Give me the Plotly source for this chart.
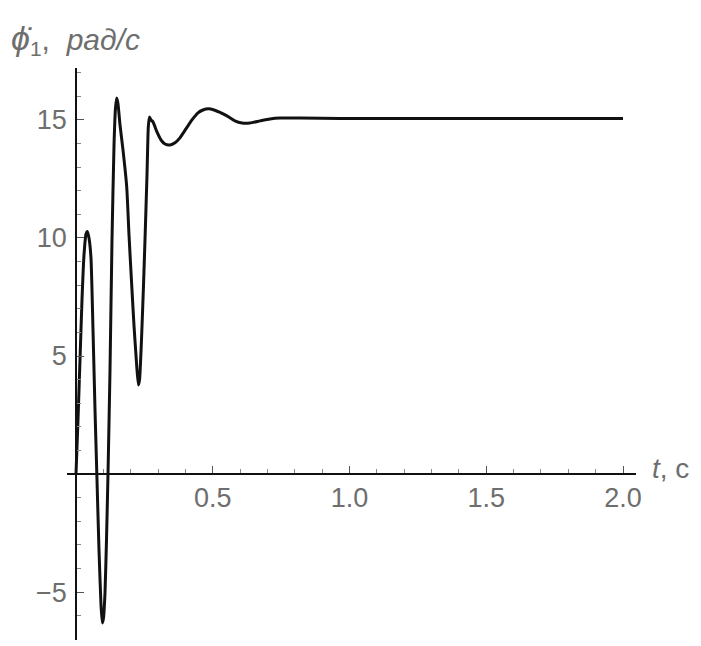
import plotly.graph_objects as go

# time, s
t_vals = [0.0, 0.0073, 0.0146, 0.0219, 0.0293, 0.0366, 0.0413, 0.0475, 0.0548, 0.0622,
          0.0695, 0.0768, 0.0841, 0.0914, 0.0962, 0.1005, 0.106, 0.1115, 0.117, 0.1243,
          0.1316, 0.139, 0.1444, 0.1488, 0.1536, 0.1609, 0.1718, 0.1854, 0.1938, 0.2037,
          0.212, 0.2205, 0.2278, 0.2322, 0.2402, 0.2468, 0.2523, 0.2596, 0.2643, 0.2687,
          0.2742, 0.2815, 0.296, 0.3108, 0.3254, 0.3437, 0.362, 0.380, 0.402, 0.424,
          0.446, 0.464, 0.484, 0.505, 0.5265, 0.552, 0.581, 0.607, 0.636, 0.673,
          0.709, 0.746, 0.819, 0.965, 1.2, 1.5, 1.8, 2.0]
# angular velocity, rad/s
w_vals = [0.0, 2.29, 4.83, 7.37, 9.28, 10.17, 10.27, 10.0, 9.15, 6.1,
          2.71, -0.25, -3.22, -5.55, -6.31, -6.1, -5.04, -2.8, 0.0, 4.4,
          9.9, 13.94, 15.5, 15.93, 15.68, 14.79, 13.73, 12.17, 10.13, 8.0,
          6.3, 4.83, 3.77, 3.98, 5.9, 8.0, 9.92, 12.67, 14.7, 15.13,
          15.0, 14.92, 14.49, 14.15, 13.98, 13.94, 14.03, 14.24, 14.62, 15.0,
          15.3, 15.42, 15.47, 15.42, 15.32, 15.17, 14.96, 14.87, 14.87, 14.96,
          15.04, 15.08, 15.08, 15.06, 15.06, 15.06, 15.06, 15.06]

x_tick_vals = [0.5, 1.0, 1.5, 2.0]
x_tick_text = ["0.5", "1.0", "1.5", "2.0"]
y_tick_vals = [-5, 5, 10, 15]
y_tick_text = ["\u22125", "5", "10", "15"]
x_minor = [0.1, 0.2, 0.3, 0.4, 0.6, 0.7, 0.8, 0.9, 1.1, 1.2, 1.3, 1.4, 1.6, 1.7, 1.8, 1.9]
y_minor = [-7, -6, -4, -3, -2, -1, 1, 2, 3, 4, 6, 7, 8, 9, 11, 12, 13, 14, 16, 17]

x_range = [-0.0329, 2.0475]
y_range = [-7.03, 17.2]

# page body adds an 8px offset, so the figure is sized to fit the window
W, H = 693, 638
L, R, T, B = 59, 65, 60, 6

fig = go.Figure()
fig.add_trace(go.Scatter(
    x=t_vals, y=w_vals, mode="lines",
    line=dict(color="#111111", width=3, shape="spline", smoothing=0.5),
    hoverinfo="skip", showlegend=False,
))

font_family = "Liberation Sans, Arial, sans-serif"
label_color = "#6e6e6e"

y_title = ("<span style='font-size:34px'><i>\u03d5\u0307</i></span>"
           "<sub>1</sub>,  <i>\u0440\u0430\u0434/\u0441</i>")

fig.update_layout(
    width=W, height=H,
    margin=dict(l=L, r=R, t=T, b=B, pad=0),
    paper_bgcolor="white", plot_bgcolor="white",
    font=dict(family=font_family, size=26, color=label_color),
    xaxis=dict(
        range=x_range, showgrid=False, zeroline=False,
        showline=True, linecolor="#111111", linewidth=1.5,
        anchor="free", position=(0 - y_range[0]) / (y_range[1] - y_range[0]),
        tickmode="array", tickvals=x_tick_vals, ticktext=x_tick_text,
        ticks="inside", ticklen=7, tickwidth=1, tickcolor="#555555",
        ticklabelstandoff=0,
        tickfont=dict(size=27, color=label_color, family=font_family),
        minor=dict(tickmode="array", tickvals=x_minor, ticks="inside",
                   ticklen=4, tickwidth=1, tickcolor="#888888", showgrid=False),
    ),
    yaxis=dict(
        range=y_range, showgrid=False, zeroline=False,
        showline=True, linecolor="#111111", linewidth=1.5,
        anchor="free", position=(0 - x_range[0]) / (x_range[1] - x_range[0]),
        tickmode="array", tickvals=y_tick_vals, ticktext=y_tick_text,
        ticks="inside", ticklen=7, tickwidth=1, tickcolor="#555555",
        ticklabelstandoff=3,
        tickfont=dict(size=27, color=label_color, family=font_family),
        minor=dict(tickmode="array", tickvals=y_minor, ticks="inside",
                   ticklen=4, tickwidth=1, tickcolor="#888888", showgrid=False),
    ),
    annotations=[
        dict(text="<i>t</i>, c", xref="paper", yref="y", x=(642 - L) / (W - L - R), y=0,
             xanchor="left", yanchor="middle", yshift=6, showarrow=False,
             font=dict(size=28, color=label_color, family=font_family)),
        dict(text=y_title,
             xref="paper", yref="paper", x=(1 - L) / (W - L - R), y=1 + (T - 31) / (H - T - B),
             xanchor="left", yanchor="middle", showarrow=False,
             font=dict(size=30, color=label_color, family=font_family)),
    ],
)

fig.write_html("out.html", config={"displayModeBar": False})
